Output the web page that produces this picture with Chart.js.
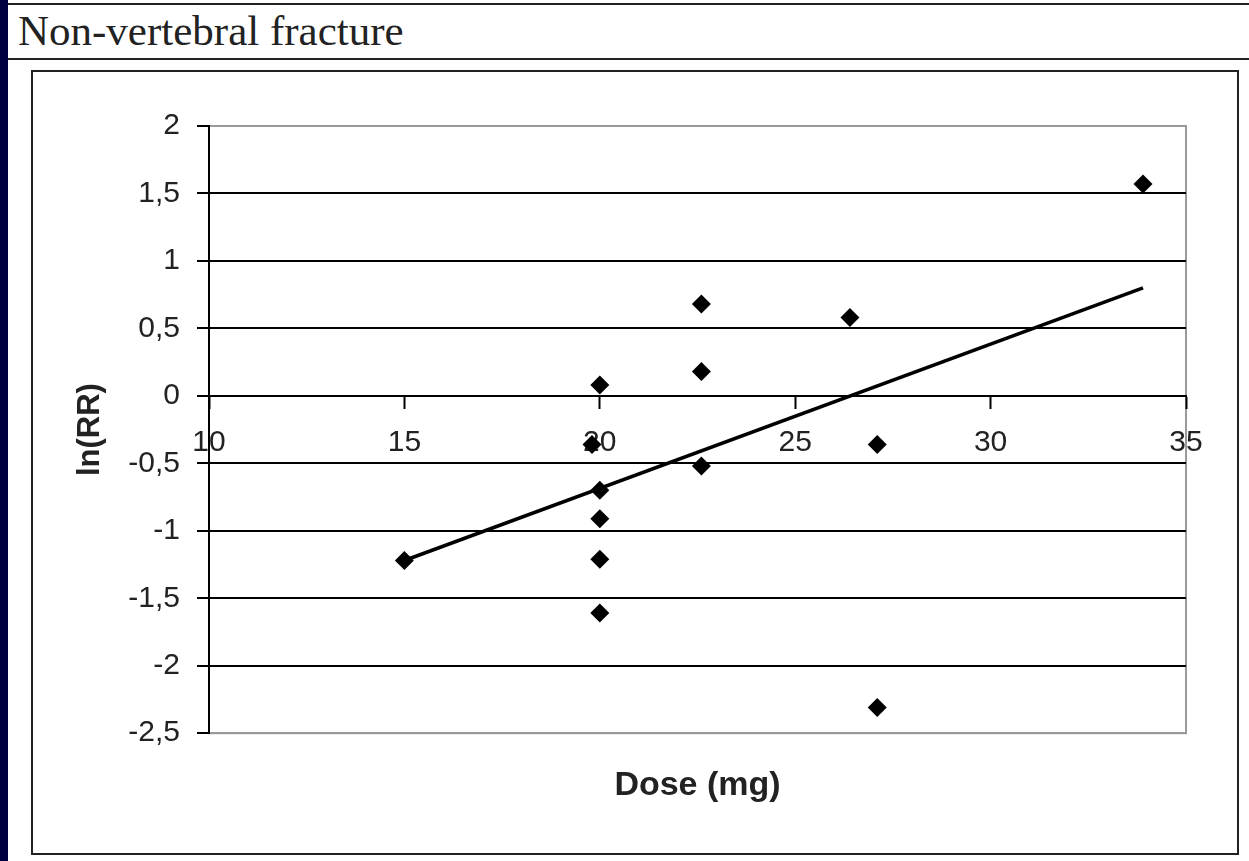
<!DOCTYPE html>
<html>
<head>
<meta charset="utf-8">
<script src="https://cdn.jsdelivr.net/npm/chart.js@4/dist/chart.umd.min.js"></script>
<style>
    html, body { margin: 0; padding: 0; background: #fff; }
    body { width: 1249px; height: 861px; position: relative; overflow: hidden; }
    #strip { position: absolute; left: 0; top: 0; width: 8px; height: 861px; background: #00003f; }
    #band { position: absolute; left: 8px; top: 3px; width: 1241px; height: 53px;
            border-top: 2px solid #222; border-bottom: 2px solid #222; }
    #caption { position: absolute; left: 18px; top: 6px; font-family: "Liberation Serif", "Times New Roman", serif;
               font-size: 43px; color: #222; white-space: nowrap; }
    #box { position: absolute; left: 31px; top: 70px; width: 1204px; height: 781px; border: 2px solid #222; }
    #box canvas { display: block; }
</style>
</head>
<body>
<div id="strip"></div>
<div id="band"></div>
<div id="caption">Non-vertebral fracture</div>
<div id="box"><canvas id="chart" width="1204" height="781"></canvas></div>
<script>
// Dose (mg) and ln(RR) of each study
const doses = [15, 20, 19.8, 20, 20, 20, 20, 22.6, 22.6, 22.6, 26.4, 27.1, 27.1, 33.9];
const lnRR = [-1.22, 0.08, -0.36, -0.7, -0.91, -1.21, -1.61, 0.68, 0.18, -0.52, 0.58, -0.36, -2.31, 1.57];

// linear trend line ends
const trendX = [15, 33.9];
const trendY = [-1.22, 0.8];

// axis ticks
const xTicks = [10, 15, 20, 25, 30, 35];
const yTicks = [2, 1.5, 1, 0.5, 0, -0.5, -1, -1.5, -2, -2.5];
const yTickLabels = ['2', '1,5', '1', '0,5', '0', '-0,5', '-1', '-1,5', '-2', '-2,5'];

const points = doses.map((d, i) => ({ x: d, y: lnRR[i] }));
const trend = trendX.map((d, i) => ({ x: d, y: trendY[i] }));

// grey frame round the plot area (top, right, bottom)
const plotFrame = {
    id: 'plotFrame',
    beforeDraw(chart) {
        const a = chart.chartArea;
        const ctx = chart.ctx;
        ctx.save();
        ctx.strokeStyle = '#9a9a9a';
        ctx.lineWidth = 2;
        ctx.strokeRect(a.left, a.top, a.right - a.left, a.bottom - a.top);
        ctx.restore();
    }
};

const ctx = document.getElementById('chart').getContext('2d');
const chart = new Chart(ctx, {
    type: 'scatter',
    data: {
        datasets: [{
            label: 'ln(RR)',
            data: points,
            pointStyle: 'rectRot',
            pointRadius: 9.5,
            backgroundColor: '#000',
            borderColor: '#000',
            borderWidth: 0
        }, {
            type: 'line',
            label: 'Trend',
            data: trend,
            borderColor: '#000',
            borderWidth: 3.5,
            pointRadius: 0,
            fill: false
        }]
    },
    options: {
        responsive: false,
        animation: false,
        layout: { padding: { left: 0, top: 54, right: 51, bottom: 47 } },
        plugins: {
            legend: { display: false },
            tooltip: { enabled: false },
            title: {
                display: true,
                text: 'Dose (mg)',
                position: 'bottom',
                fullSize: false,
                color: '#222',
                font: { family: 'Liberation Sans, Arial, sans-serif', size: 34, weight: 'bold' },
                padding: { top: 32, bottom: 0 }
            }
        },
        scales: {
            x: {
                type: 'linear',
                position: { y: 0 },
                min: 10,
                max: 35,
                afterBuildTicks: (scale) => { scale.ticks = xTicks.map(v => ({ value: v })); },
                ticks: {
                    color: '#222',
                    padding: 17,
                    font: { family: 'Liberation Sans, Arial, sans-serif', size: 30 },
                    maxRotation: 0
                },
                grid: { drawOnChartArea: false, drawTicks: true, tickLength: 12, tickColor: '#000', tickWidth: 2 },
                border: { display: true, color: '#000', width: 2 }
            },
            y: {
                type: 'linear',
                min: -2.5,
                max: 2,
                afterFit: (scale) => { scale.width = 176; },
                afterBuildTicks: (scale) => { scale.ticks = yTicks.map(v => ({ value: v })); },
                ticks: {
                    color: '#222',
                    padding: 17,
                    font: { family: 'Liberation Sans, Arial, sans-serif', size: 30 },
                    callback: (v) => yTickLabels[yTicks.indexOf(v)]
                },
                grid: {
                    color: (c) => (c.tick && (c.tick.value === 2 || c.tick.value === -2.5)) ? '#9a9a9a' : '#000',
                    lineWidth: 2,
                    drawTicks: true,
                    tickLength: 12,
                    tickColor: '#000',
                    tickWidth: 2
                },
                border: { display: true, color: '#000', width: 2 },
                title: {
                    display: true,
                    text: 'ln(RR)',
                    color: '#222',
                    font: { family: 'Liberation Sans, Arial, sans-serif', size: 31, weight: 'bold' },
                    padding: { top: 39, bottom: 0 }
                }
            }
        }
    },
    plugins: [plotFrame]
});
</script>
</body>
</html>
